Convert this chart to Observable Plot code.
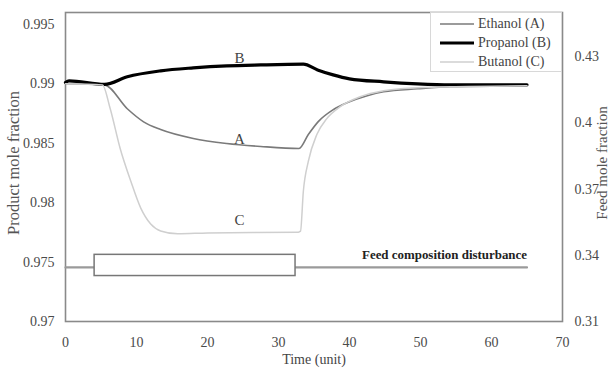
<!DOCTYPE html>
<html>
<head>
<meta charset="utf-8">
<script src="https://cdn.jsdelivr.net/npm/d3@7"></script>
<script src="https://cdn.jsdelivr.net/npm/@observablehq/plot@0.6"></script>
</head>
<body style="margin:0;background:#fff">
<div id="wrap" style="position:relative;width:610px;height:374px;overflow:hidden;font-family:'Liberation Serif'">
  <div id="chart"></div>
  <div id="legend" style="position:absolute;left:430px;top:12px;width:132px;height:60px;background:#fff;border:1px solid #d8d8d8;font-size:14px;color:#444;box-sizing:border-box;font-family:'Liberation Serif'"></div>
</div>
<script>
// ---- data ----
const timeA = [0, 5.5, 8.7, 11, 13.4, 18, 22.7, 27.5, 32.9, 34.2, 35.6, 37.7, 40, 42.5, 44.8, 49.6, 54.2, 65];
const ethanolA = [0.99, 0.9899, 0.9879, 0.9868, 0.98615, 0.9854, 0.98498, 0.98473, 0.98456, 0.98573, 0.98682, 0.98782, 0.98849, 0.989, 0.98933, 0.98958, 0.98975, 0.98983];

const timeB = [0, 0.5, 5.5, 8.7, 13.4, 18, 22.7, 27.5, 33.5, 35.5, 37.7, 40, 44.8, 49.6, 54.2, 65];
const propanolB = [0.9901, 0.99025, 0.98995, 0.99059, 0.99109, 0.99134, 0.99151, 0.99159, 0.99165, 0.99117, 0.99075, 0.99042, 0.99017, 0.99, 0.98992, 0.98992];

const timeC = [0, 5.2, 6.3, 7.7, 9.2, 10.6, 12, 13.4, 15.8, 20, 32.8, 33.1, 33.5, 34.2, 35.4, 36.8, 38.7, 41.5, 44.8, 49.6, 54.2, 65];
const butanolC = [0.99, 0.9899, 0.9879, 0.98456, 0.9818, 0.97954, 0.9782, 0.97762, 0.97738, 0.97745, 0.97752, 0.9776, 0.98096, 0.98347, 0.98573, 0.98707, 0.98808, 0.98891, 0.98941, 0.98967, 0.98975, 0.98983];

const seriesNames = ["Ethanol (A)", "Propanol (B)", "Butanol (C)"];
const seriesLetters = ["A", "B", "C"];
const letterPos = [[24.5, 0.98535], [24.5, 0.99215], [24.5, 0.9785]]; // label anchors (time, value)

// feed composition disturbance (right axis, feed mole fraction)
const feedTime = [0, 65];
const feedBase = 0.3345;
const pulseStart = 4.1, pulseEnd = 32.4;
const pulseLow = 0.3306, pulseHigh = 0.3402;

const xTicks = [0, 10, 20, 30, 40, 50, 60, 70];
const yTicks = [0.97, 0.975, 0.98, 0.985, 0.99, 0.995];
const rightTicks = [0.31, 0.34, 0.37, 0.4, 0.43];
const rightTickLabels = ["0.31", "0.34", "0.37", "0.4", "0.43"];

// ---- scale mapping for right axis ----
const yDom = [0.97, 0.996];
const rDom = [0.31, 0.45];
const toLeft = r => yDom[0] + (r - rDom[0]) * (yDom[1] - yDom[0]) / (rDom[1] - rDom[0]);

const colors = ["#7a7a7a", "#000000", "#cfcfcf"];
const widths = [1.6, 3.2, 1.5];

const rows = [];
[[timeA, ethanolA], [timeB, propanolB], [timeC, butanolC]].forEach(([ts, vs], k) => {
  ts.forEach((t, i) => rows.push({series: seriesNames[k], t, v: vs[i]}));
});
const feedLine = feedTime.map(t => ({t, v: toLeft(feedBase)}));
const pulse = [{x1: pulseStart, x2: pulseEnd, y1: toLeft(pulseLow), y2: toLeft(pulseHigh)}];
const letters = seriesLetters.map((s, k) => ({s, t: letterPos[k][0], v: letterPos[k][1]}));

const serif = "Liberation Serif";
const chart = Plot.plot({
  width: 610, height: 374,
  marginLeft: 65, marginRight: 48, marginTop: 12, marginBottom: 53,
  style: {fontFamily: serif, fontSize: "14px", color: "#4a4a4a", background: "#fff"},
  x: {domain: [0, 70]},
  y: {domain: yDom},
  marks: [
    Plot.frame({stroke: "#8a8a8a", strokeWidth: 1.6}),
    Plot.axisX({ticks: xTicks, tickSize: 0, tickPadding: 16, label: null, fontSize: 14, tickFormat: d => String(d)}),
    Plot.axisY({ticks: yTicks, tickSize: 0, tickPadding: 11, label: null, fontSize: 14, tickFormat: d => String(+d.toFixed(3))}),
    Plot.axisY({anchor: "right", ticks: rightTicks.map(toLeft), tickSize: 0, tickPadding: 12, label: null, fontSize: 14,
      tickFormat: d => rightTickLabels[rightTicks.findIndex(r => Math.abs(toLeft(r) - d) < 1e-9)]}),
    Plot.line(feedLine, {x: "t", y: "v", stroke: "#9a9a9a", strokeWidth: 2.2}),
    Plot.rect(pulse, {x1: "x1", x2: "x2", y1: "y1", y2: "y2", fill: "#fff", stroke: "#777", strokeWidth: 1.5}),
    Plot.text(["Feed composition disturbance"], {x: feedTime[1], y: toLeft(feedBase), dy: -12, textAnchor: "end",
      fontWeight: "bold", fontSize: 12.5, fill: "#222", className: "feedlabel"}),
    Plot.line(rows, {x: "t", y: "v", z: "series", curve: "monotone-x",
      stroke: d => colors[seriesNames.indexOf(d.series)], strokeWidth: 1.6, className: "series"}),
    Plot.text(letters, {x: "t", y: "v", text: "s", fontSize: 15, fill: "#444"}),
    Plot.text(["Time (unit)"], {frameAnchor: "bottom", dy: 42, fontSize: 14, fill: "#444"}),
    Plot.text(["Product mole fraction"], {frameAnchor: "left", textAnchor: "middle", dx: -52, dy: -4, rotate: -90, fontSize: 16.5, fill: "#555"}),
    Plot.text(["Feed mole fraction"], {frameAnchor: "right", textAnchor: "middle", dx: 40, dy: -4, rotate: -90, fontSize: 15, fill: "#555"})
  ]
});
document.getElementById("chart").append(chart);

// force the serif face on every text element
chart.style.fontFamily = serif;
chart.querySelectorAll("text, g").forEach(el => { el.style.fontFamily = serif; });

// per-series stroke width (Plot.line takes a constant strokeWidth per mark)
chart.querySelectorAll("g.series path").forEach(p => {
  const k = colors.indexOf(p.getAttribute("stroke"));
  if (k >= 0) p.setAttribute("stroke-width", widths[k]);
});
// stretch the disturbance label like the reference
const fl = chart.querySelector("g.feedlabel text");
if (fl) { fl.setAttribute("textLength", 165); fl.setAttribute("lengthAdjust", "spacingAndGlyphs"); }

// legend (HTML overlay inside the plot area)
const legend = document.getElementById("legend");
seriesNames.forEach((name, k) => {
  const row = document.createElement("div");
  row.style.cssText = `position:absolute;left:9px;top:${2 + k * 19}px;height:18px;display:flex;align-items:center;white-space:nowrap;font-family:'Liberation Serif'`;
  row.innerHTML = `<svg width="34" height="6" style="margin-right:4px"><line x1="0" y1="3" x2="34" y2="3" stroke="${colors[k]}" stroke-width="${widths[k]}"/></svg><span style="font-family:'Liberation Serif'">${name}</span>`;
  legend.append(row);
});
</script>
</body>
</html>
